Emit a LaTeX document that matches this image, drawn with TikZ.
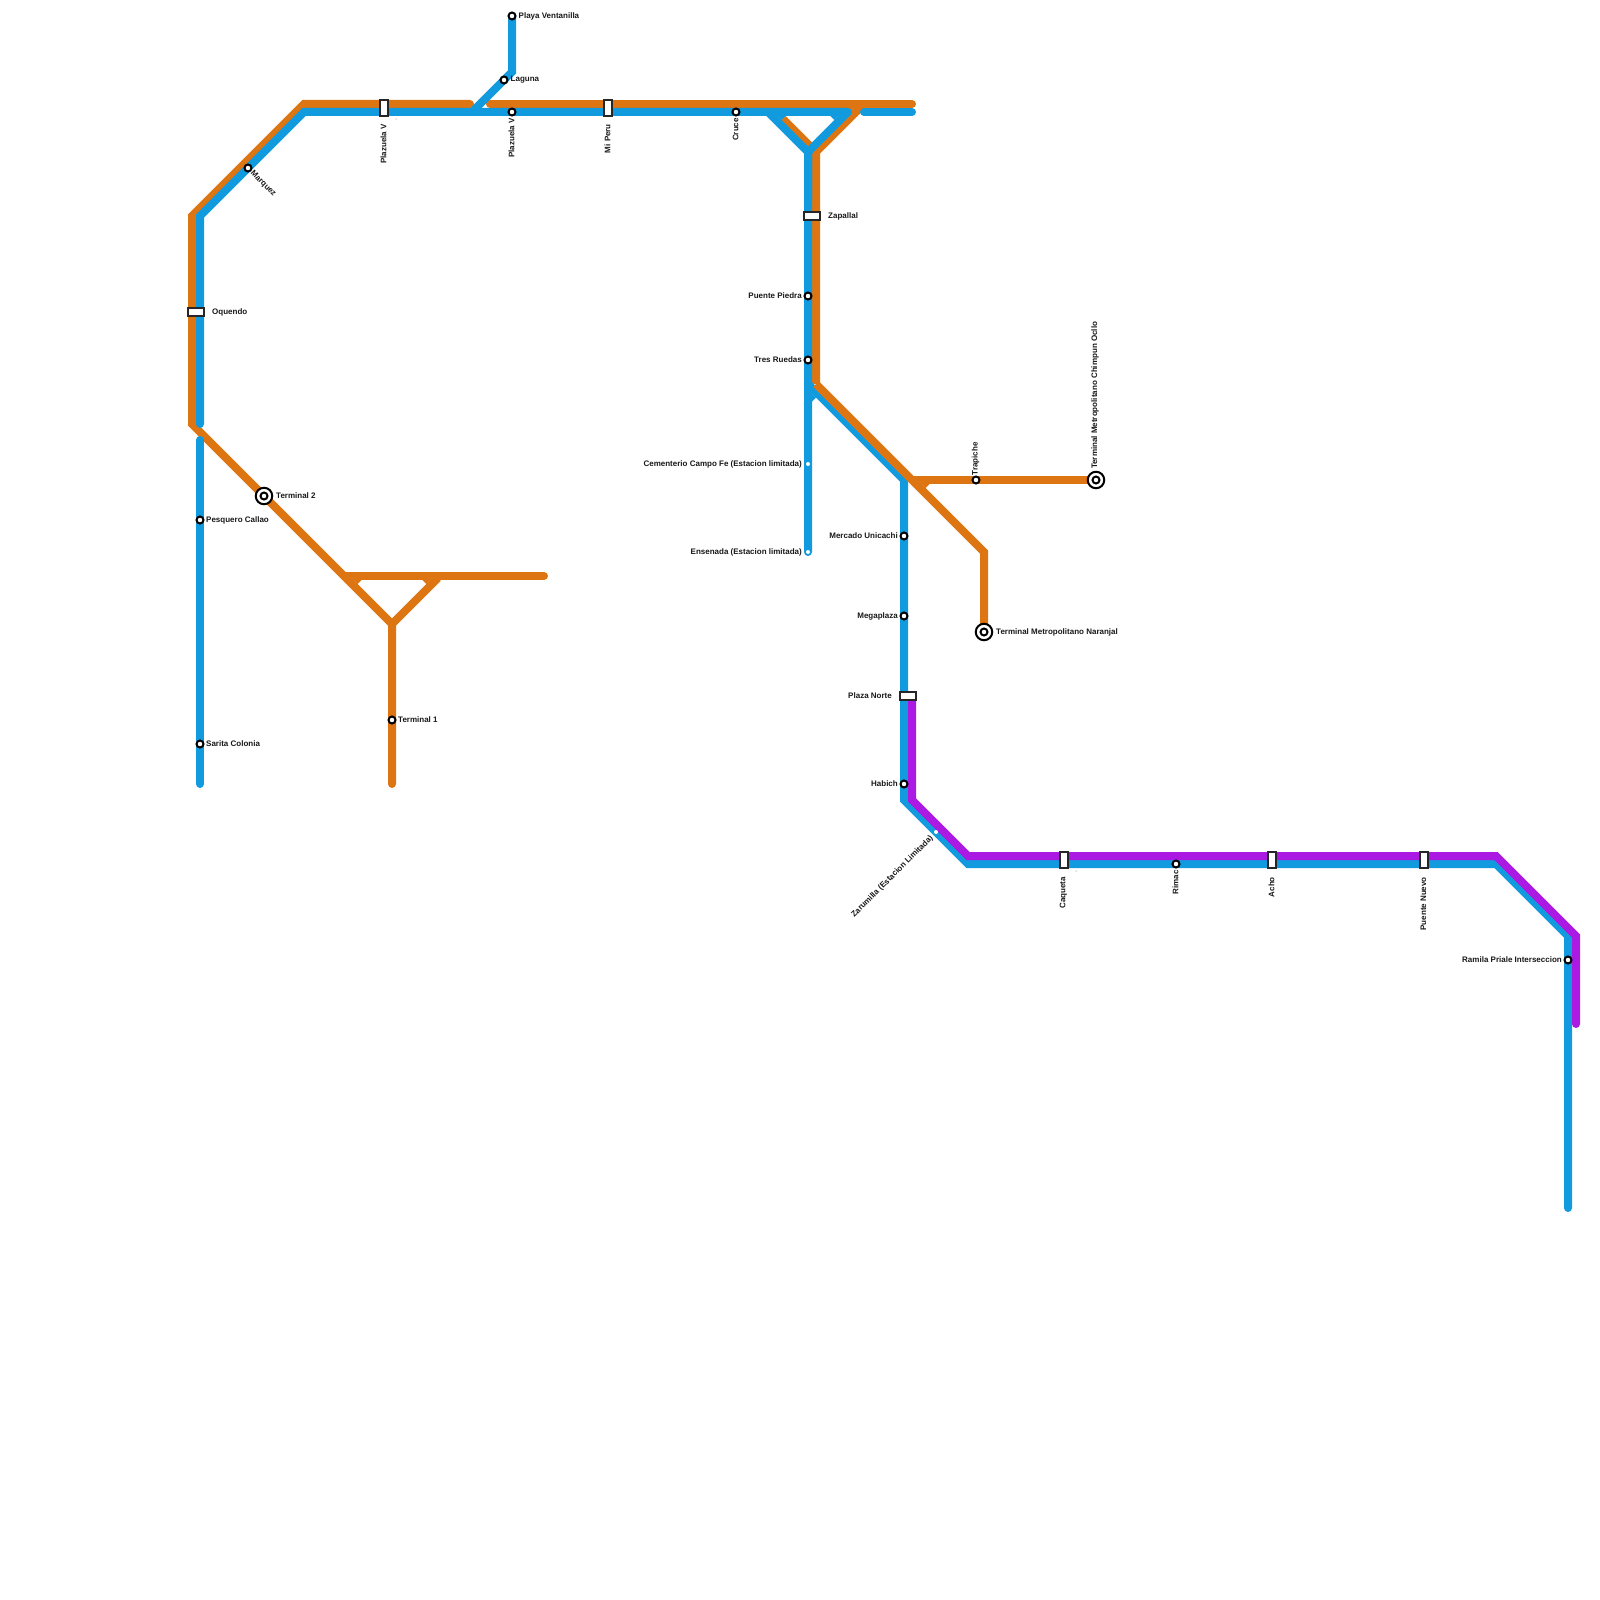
\documentclass[tikz,border=0pt]{standalone}
\usepackage{xcolor}
\usepackage{fontspec}
\setmainfont{Liberation Sans}
\definecolor{lineblue}{HTML}{129ADF}
\definecolor{lineorange}{HTML}{DD7513}
\definecolor{linepurple}{HTML}{AB1AE3}
\definecolor{stnedge}{HTML}{262626}
\tikzset{
  metro/.style={line width=8pt, line join=miter, miter limit=10},
  endround/.style={line cap=round},
  stn/.style={circle, draw=black, fill=white, line width=2pt, minimum size=7pt, inner sep=0pt},
  stnterm/.style={circle, draw=black, fill=white, line width=2pt, minimum size=16.5pt, inner sep=0pt},
  stnlimit/.style={circle, fill=white, minimum size=4pt, inner sep=0pt},
  stnwide/.style={rectangle, draw=stnedge, fill=white, line width=2pt, minimum width=15.4pt, minimum height=7.4pt, inner sep=0pt},
  stntall/.style={rectangle, draw=stnedge, fill=white, line width=2pt, minimum width=7.4pt, minimum height=15.4pt, inner sep=0pt},
  speck/.style={circle, fill=stnedge!70, minimum size=1pt, inner sep=0pt},
  lbl/.style={font=\fontsize{8}{9}\selectfont\bfseries, inner sep=0pt, text=black!90},
}
\begin{document}
\begin{tikzpicture}[x=1pt, y=-1pt]
  \useasboundingbox (0,0) rectangle (1600,1600);
  \fill[white] (0,0) rectangle (1600,1600);

  % bends, orange
  \coordinate (oA) at (470,104);
  \coordinate (oB) at (304,104);
  \coordinate (oC) at (192,216);
  \coordinate (oD) at (192,424);
  \coordinate (oE) at (344,576);
  \coordinate (oF) at (392,624);
  \coordinate (oG) at (392,784);
  \coordinate (oH) at (346,576);
  \coordinate (oI) at (544,576);
  \coordinate (oJ) at (438,578);
  \coordinate (oK) at (490,104);
  \coordinate (oL) at (912,104);
  \coordinate (oM) at (782.8,118.8);
  \coordinate (oN) at (816,152);
  \coordinate (oP) at (862,106);
  \coordinate (oQ) at (816,384);
  \coordinate (oR) at (984,552);
  \coordinate (oS) at (984,632);
  \coordinate (oT) at (914,480);
  \coordinate (oU) at (1096,480);

  % bends, blue
  \coordinate (bA) at (200,424);
  \coordinate (bB) at (200,216);
  \coordinate (bC) at (304,112);
  \coordinate (bD) at (848,112);
  \coordinate (bE) at (200,440);
  \coordinate (bF) at (200,784);
  \coordinate (bG) at (512,16);
  \coordinate (bH) at (512,72);
  \coordinate (bI) at (473,111);
  \coordinate (bJ) at (768,112);
  \coordinate (bK) at (808,152);
  \coordinate (bL) at (808,552);
  \coordinate (bM) at (808,200);
  \coordinate (bN) at (864,112);
  \coordinate (bO) at (912,112);
  \coordinate (bP) at (808,384);
  \coordinate (bQ) at (904,480);
  \coordinate (bR) at (904,800);
  \coordinate (bS) at (968,864);
  \coordinate (bT) at (1496,864);
  \coordinate (bU) at (1568,936);
  \coordinate (bV) at (1568,1208);

  % bends, purple
  \coordinate (pA) at (912,696);
  \coordinate (pB) at (912,800);
  \coordinate (pC) at (968,856);
  \coordinate (pD) at (1496,856);
  \coordinate (pE) at (1576,936);
  \coordinate (pF) at (1576,1024);

  % orange lines
  \draw[metro, endround, lineorange] (oA) -- (oB) -- (oC) -- (oD) -- (oE) -- (oF) -- (oG);
  \draw[metro, endround, lineorange] (oH) -- (oI);
  \draw[metro, lineorange] (oF) -- (oJ);
  \draw[metro, endround, lineorange] (oK) -- (oL);
  \draw[metro, lineorange] (oM) -- (oN);
  \draw[metro, lineorange] (oP) -- (oN) -- (oQ);
  \draw[metro, endround, lineorange] (oT) -- (oU);
  \fill[lineorange] (353.66,580) -- (361.66,580) -- (357.66,584) -- cycle;
  \fill[lineorange] (422.34,580) -- (430.34,580) -- (426.34,584) -- cycle;
  \fill[lineorange] (921.66,484) -- (929.66,484) -- (925.66,488) -- cycle;
  \fill[lineorange] (846.34,108) -- (854.34,108) -- (850.34,112) -- cycle;

  % blue lines
  \draw[metro, endround, lineblue] (bA) -- (bB) -- (bC) -- (bD);
  \draw[metro, endround, lineblue] (bE) -- (bF);
  \draw[metro, lineblue] (bG) -- (bH) -- (bI);
  \draw[metro, lineblue] (bJ) -- (bK) -- (bL);
  \fill[lineblue] (bL) circle (4pt);
  \draw[metro, lineblue] (bD) -- (bK) -- (bM);
  \draw[metro, endround, lineblue] (bN) -- (bO);
  \draw[metro, lineblue] (bP) -- (bQ) -- (bR) -- (bS) -- (bT) -- (bU) -- (bV);
  \fill[lineblue] (bV) circle (4pt);
  \fill[lineblue] (777.66,116) -- (785.66,116) -- (781.66,120) -- cycle;
  \fill[lineblue] (830.34,116) -- (838.34,116) -- (834.34,120) -- cycle;
  \fill[lineblue] (812,393.66) -- (812,401.66) -- (816,397.66) -- cycle;

  % orange over blue on the long diagonal
  \draw[metro, lineorange] (oQ) -- (oR) -- (oS);

  % purple line
  \draw[metro, linepurple] (pA) -- (pB) -- (pC) -- (pD) -- (pE) -- (pF);
  \fill[linepurple] (pF) circle (4pt);

  % round stations
  \node[stn] (stPlaya) at (512,16) {};
  \node[stn] (stLaguna) at (504,80) {};
  \node[stn] (stPlazuelaB) at (512,112) {};
  \node[stn] (stMarquez) at (248,168) {};
  \node[stn] (stCruce) at (736,112) {};
  \node[stn] (stPiedra) at (808,296) {};
  \node[stn] (stRuedas) at (808,360) {};
  \node[stn] (stUnicachi) at (904,536) {};
  \node[stn] (stMegaplaza) at (904,616) {};
  \node[stn] (stHabich) at (904,784) {};
  \node[stn] (stRimac) at (1176,864) {};
  \node[stn] (stRamila) at (1568,960) {};
  \node[stn] (stTrapiche) at (976,480) {};
  \node[stn] (stPesquero) at (200,520) {};
  \node[stn] (stSarita) at (200,744) {};
  \node[stn] (stTermOne) at (392,720) {};

  % terminals
  \node[stnterm] (stTermTwo) at (264,496) {};
  \node[stn] (stTermTwoIn) at (264,496) {};
  \node[stnterm] (stNaranjal) at (984,632) {};
  \node[stn] (stNaranjalIn) at (984,632) {};
  \node[stnterm] (stChimpun) at (1096,480) {};
  \node[stn] (stChimpunIn) at (1096,480) {};

  % limited service
  \node[stnlimit] (stCampoFe) at (808,464) {};
  \node[stnlimit] (stEnsenada) at (808,552) {};
  \node[stnlimit] (stZarumilla) at (936,832) {};

  % interchanges
  \node[stnwide] (stOquendo) at (196,312) {};
  \node[stnwide] (stZapallal) at (812,216) {};
  \node[stnwide] (stPlazaNorte) at (908,696) {};
  \node[stntall] (stPlazuelaA) at (384,108) {};
  \node[stntall] (stMiPeru) at (608,108) {};
  \node[stntall] (stCaqueta) at (1064,860) {};
  \node[stntall] (stAcho) at (1272,860) {};
  \node[stntall] (stPuenteNuevo) at (1424,860) {};

  % stray marks
  \node[speck] (spA) at (396,119) {};
  \node[speck] (spB) at (809,229) {};
  \node[speck] (spC) at (1076,871) {};

  % labels to the right
  \node[lbl, anchor=west] (lbPlaya) at (518.5,16) {Playa Ventanilla};
  \node[lbl, anchor=west] (lbLaguna) at (510.5,80) {Laguna};
  \node[lbl, anchor=west] (lbOquendo) at (212,312) {Oquendo};
  \node[lbl, anchor=west] (lbZapallal) at (828,216) {Zapallal};
  \node[lbl, anchor=west] (lbTermTwo) at (276,496) {Terminal 2};
  \node[lbl, anchor=west] (lbPesquero) at (206,520) {Pesquero Callao};
  \node[lbl, anchor=west] (lbSarita) at (206,744) {Sarita Colonia};
  \node[lbl, anchor=west] (lbTermOne) at (398,720) {Terminal 1};
  \node[lbl, anchor=west] (lbNaranjal) at (996,632) {Terminal Metropolitano Naranjal};

  % labels to the left
  \node[lbl, anchor=east] (lbPiedra) at (802,296) {Puente Piedra};
  \node[lbl, anchor=east] (lbRuedas) at (802,360) {Tres Ruedas};
  \node[lbl, anchor=east] (lbCampoFe) at (802,464) {Cementerio Campo Fe (Estacion limitada)};
  \node[lbl, anchor=east] (lbEnsenada) at (802,552) {Ensenada (Estacion limitada)};
  \node[lbl, anchor=east] (lbUnicachi) at (898,536) {Mercado Unicachi};
  \node[lbl, anchor=east] (lbMegaplaza) at (898,616) {Megaplaza};
  \node[lbl, anchor=east] (lbPlazaNorte) at (892,696) {Plaza Norte};
  \node[lbl, anchor=east] (lbHabich) at (898,784) {Habich};
  \node[lbl, anchor=east] (lbRamila) at (1562,960) {Ramila Priale Interseccion};

  % turned labels
  \node[lbl, rotate=90, anchor=east] (lbPlazuelaA) at (383.5,124) {Plazuela V};
  \node[lbl, rotate=90, anchor=east] (lbPlazuelaB) at (511.5,118) {Plazuela V};
  \node[lbl, rotate=90, anchor=east] (lbMiPeru) at (607.5,124) {Mi Peru};
  \node[lbl, rotate=90, anchor=east] (lbCruce) at (735.5,118) {Cruce};
  \node[lbl, rotate=90, anchor=east] (lbCaqueta) at (1063.5,877) {Caqueta};
  \node[lbl, rotate=90, anchor=east] (lbRimac) at (1175.5,870) {Rimac};
  \node[lbl, rotate=90, anchor=east] (lbAcho) at (1271.5,877) {Acho};
  \node[lbl, rotate=90, anchor=east] (lbPuenteNuevo) at (1423.5,877) {Puente Nuevo};
  \node[lbl, rotate=90, anchor=west] (lbTrapiche) at (975.5,475.5) {Trapiche};
  \node[lbl, rotate=90, anchor=west] (lbChimpun) at (1095,469) {Terminal Metropolitano Chimpun Ocllo};
  \node[lbl, rotate=-45, anchor=west] (lbMarquez) at (251.5,172) {Marquez};
  \node[lbl, rotate=45, anchor=east] (lbZarumilla) at (932,837) {Zarumilla (Estacion Limitada)};
\end{tikzpicture}
\end{document}
